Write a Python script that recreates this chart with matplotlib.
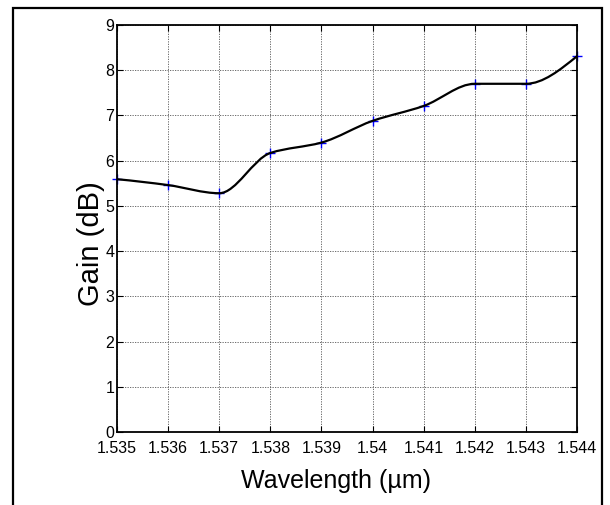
import numpy as np
import matplotlib
matplotlib.use("Agg")
import matplotlib.pyplot as plt
from matplotlib.path import Path
from matplotlib.patches import PathPatch, Rectangle

# ---- data ----
wavelength = [1.535, 1.536, 1.537, 1.538, 1.539, 1.540, 1.541, 1.542, 1.543, 1.544]
gain_db = [5.59, 5.46, 5.28, 6.17, 6.40, 6.88, 7.21, 7.70, 7.70, 8.31]
xtick_vals = [1.535, 1.536, 1.537, 1.538, 1.539, 1.540, 1.541, 1.542, 1.543, 1.544]
xtick_labels = ["1.535", "1.536", "1.537", "1.538", "1.539", "1.54",
                "1.541", "1.542", "1.543", "1.544"]
ytick_vals = [0, 1, 2, 3, 4, 5, 6, 7, 8, 9]

plt.rcParams['font.family'] = ['Liberation Sans', 'DejaVu Sans']

fig = plt.figure(figsize=(6.10, 5.05), dpi=100)
ax = fig.add_axes([117/610, 73/505, 460/610, 407/505])

# outer frame
fig.patches.append(Rectangle((13/610, -0.05), (602-13)/610, 1 - 8/505 + 0.05,
                             transform=fig.transFigure, fill=False,
                             edgecolor='black', linewidth=1.6, zorder=0))

x = np.asarray(wavelength, float)
y = np.asarray(gain_db, float)

# shape-preserving (pchip) tangents -> cubic Bezier path through data points
h = np.diff(x)
d = np.diff(y) / h
m = np.zeros_like(y)
for k in range(1, len(y) - 1):
    if d[k-1] * d[k] <= 0:
        m[k] = 0.0
    else:
        w1 = 2*h[k] + h[k-1]
        w2 = h[k] + 2*h[k-1]
        m[k] = (w1 + w2) / (w1/d[k-1] + w2/d[k])
def end_slope(h0, h1, d0, d1):
    s = ((2*h0 + h1)*d0 - h0*d1) / (h0 + h1)
    if np.sign(s) != np.sign(d0):
        s = 0.0
    elif np.sign(d0) != np.sign(d1) and abs(s) > abs(3*d0):
        s = 3*d0
    return s
m[0] = end_slope(h[0], h[1], d[0], d[1])
m[-1] = end_slope(h[-1], h[-2], d[-1], d[-2])

verts = [(x[0], y[0])]
codes = [Path.MOVETO]
for k in range(len(x) - 1):
    verts += [(x[k] + h[k]/3, y[k] + m[k]*h[k]/3),
              (x[k+1] - h[k]/3, y[k+1] - m[k+1]*h[k]/3),
              (x[k+1], y[k+1])]
    codes += [Path.CURVE4]*3

ax.plot(x, y, linestyle='none', marker='+', color='blue', markersize=7,
        markeredgewidth=1.0, zorder=3, clip_on=False)
ax.add_patch(PathPatch(Path(verts, codes), fill=False, edgecolor='black',
                       linewidth=1.6, zorder=4, capstyle='round'))

ax.set_xlim(1.535, 1.544)
ax.set_ylim(0, 9)
ax.set_xticks(xtick_vals)
ax.set_xticklabels(xtick_labels)
ax.set_yticks(ytick_vals)

ax.grid(True, color='#555555', linestyle=(0, (1.5, 1.5)), linewidth=0.6)
ax.set_axisbelow(True)
for s in ax.spines.values():
    s.set_linewidth(1.3)
    s.set_zorder(5)

ax.tick_params(axis='both', direction='in', length=4, width=0.8,
               top=True, right=True, labelsize=11.5)
ax.tick_params(axis='x', pad=6.5)
ax.tick_params(axis='y', pad=2)

ax.set_xlabel('Wavelength (\u00b5m)', fontsize=18)
ax.xaxis.set_label_coords(0.476, -0.12)
ax.xaxis.label.set_va('center')
ax.set_ylabel('Gain (dB)', fontsize=21)
ax.yaxis.set_label_coords(-0.056, 0.462)
ax.yaxis.label.set_va('center')

fig.savefig('out.png', dpi=100)
